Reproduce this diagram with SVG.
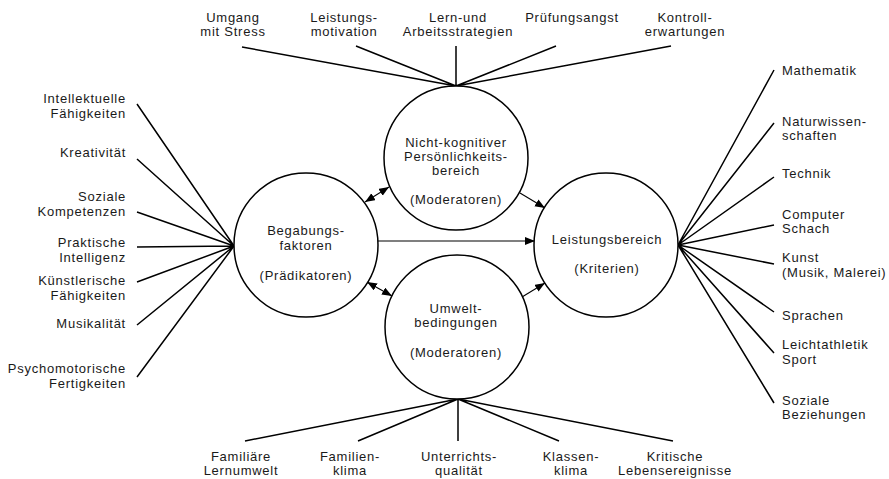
<svg xmlns="http://www.w3.org/2000/svg" width="889" height="479" viewBox="0 0 889 479">
<style>
text{font-family:"Liberation Sans",Arial,sans-serif;font-size:13px;fill:#1a1a1a;letter-spacing:0.75px}
.m{text-anchor:middle}
.e{text-anchor:end}
.ln{stroke:#000;stroke-width:1.5;fill:none}
.ar{stroke:#000;stroke-width:1.1;fill:none}
.c{fill:#fff;stroke:#000;stroke-width:1.5}
</style>
<defs>
<marker id="ah" markerUnits="userSpaceOnUse" markerWidth="11" markerHeight="9" refX="10" refY="4" orient="auto-start-reverse" viewBox="0 0 11 9">
<path d="M0,0 L10,4 L0,8 z" fill="#000"/>
</marker>
</defs>
<g id="connectors">
<path class="ln" d="M456,86 L242,47 M456,86 L356,46 M456,86 L456,46 M456,86 L556,46 M456,86 L671,46"/>
<path class="ln" d="M458,399 L245,441 M458,399 L358,441 M458,399 L458,441 M458,399 L559,441 M458,399 L673,441"/>
<path class="ln" d="M234,246 L137,104 M234,246 L137,159 M234,246 L137,212 M234,246 L137,247 M234,246 L137,282 M234,246 L137,325 M234,246 L137,377"/>
<path class="ln" d="M678,245 L774,70 M678,245 L774,123 M678,245 L774,177 M678,245 L774,225 M678,245 L774,264 M678,245 L774,312 M678,245 L774,353 M678,245 L774,403"/>
<line class="ar" x1="378" y1="241" x2="535" y2="241" marker-end="url(#ah)"/>
<line class="ar" x1="520" y1="193" x2="545" y2="208" marker-end="url(#ah)"/>
<line class="ar" x1="522" y1="297" x2="545" y2="283" marker-end="url(#ah)"/>
<line class="ar" x1="365" y1="202" x2="389" y2="187" marker-start="url(#ah)" marker-end="url(#ah)"/>
<line class="ar" x1="367" y1="282" x2="392" y2="296" marker-start="url(#ah)" marker-end="url(#ah)"/>
</g>
<g id="begabung">
<circle class="c" cx="306" cy="245" r="72"/>
<text class="m" x="306" y="235">Begabungs-</text>
<text class="m" x="306" y="249.5">faktoren</text>
<text class="m" x="306" y="280">(Prädikatoren)</text>
</g>
<g id="nichtkognitiv">
<circle class="c" cx="456" cy="158" r="72"/>
<text class="m" x="456" y="147">Nicht-kognitiver</text>
<text class="m" x="456" y="161">Persönlichkeits-</text>
<text class="m" x="456" y="175">bereich</text>
<text class="m" x="456" y="204">(Moderatoren)</text>
</g>
<g id="umwelt">
<circle class="c" cx="457" cy="327" r="72"/>
<text class="m" x="456" y="313">Umwelt-</text>
<text class="m" x="456" y="327">bedingungen</text>
<text class="m" x="456" y="357">(Moderatoren)</text>
</g>
<g id="leistung">
<circle class="c" cx="606" cy="245" r="72"/>
<text class="m" x="607" y="244">Leistungsbereich</text>
<text class="m" x="607" y="273">(Kriterien)</text>
</g>
<g id="top-labels">
<text class="m" x="233" y="21.5">Umgang</text>
<text class="m" x="233" y="36">mit Stress</text>
<text class="m" x="344" y="21.5">Leistungs-</text>
<text class="m" x="344" y="36">motivation</text>
<text class="m" x="458" y="21.5">Lern-und</text>
<text class="m" x="458" y="36">Arbeitsstrategien</text>
<text class="m" x="572" y="21.5">Prüfungsangst</text>
<text class="m" x="685" y="21.5">Kontroll-</text>
<text class="m" x="685" y="36">erwartungen</text>
</g>
<g id="left-labels">
<text class="e" x="126" y="103">Intellektuelle</text>
<text class="e" x="126" y="118">Fähigkeiten</text>
<text class="e" x="126" y="157">Kreativität</text>
<text class="e" x="126" y="201">Soziale</text>
<text class="e" x="126" y="216">Kompetenzen</text>
<text class="e" x="126" y="247">Praktische</text>
<text class="e" x="126" y="262">Intelligenz</text>
<text class="e" x="126" y="285">Künstlerische</text>
<text class="e" x="126" y="300">Fähigkeiten</text>
<text class="e" x="126" y="328">Musikalität</text>
<text class="e" x="126" y="373">Psychomotorische</text>
<text class="e" x="126" y="388">Fertigkeiten</text>
</g>
<g id="right-labels">
<text x="782" y="75">Mathematik</text>
<text x="782" y="126">Naturwissen-</text>
<text x="782" y="140">schaften</text>
<text x="782" y="178">Technik</text>
<text x="782" y="219">Computer</text>
<text x="782" y="233">Schach</text>
<text x="782" y="262">Kunst</text>
<text x="782" y="277">(Musik, Malerei)</text>
<text x="782" y="320">Sprachen</text>
<text x="782" y="349">Leichtathletik</text>
<text x="782" y="364">Sport</text>
<text x="782" y="405">Soziale</text>
<text x="782" y="419">Beziehungen</text>
</g>
<g id="bottom-labels">
<text class="m" x="241" y="461">Familiäre</text>
<text class="m" x="241" y="475">Lernumwelt</text>
<text class="m" x="350" y="461">Familien-</text>
<text class="m" x="350" y="475">klima</text>
<text class="m" x="459" y="461">Unterrichts-</text>
<text class="m" x="459" y="475">qualität</text>
<text class="m" x="571" y="461">Klassen-</text>
<text class="m" x="571" y="475">klima</text>
<text class="m" x="675" y="461">Kritische</text>
<text class="m" x="675" y="475">Lebensereignisse</text>
</g>
</svg>
